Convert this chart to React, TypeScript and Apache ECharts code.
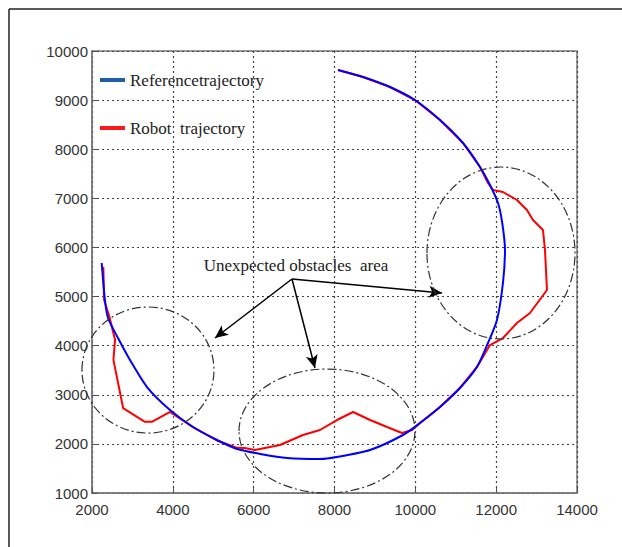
import React, { useEffect, useRef } from "react";
import * as echarts from "echarts";

// Axis ranges / ticks
const xMin = 2000;
const xMax = 14000;
const xStep = 2000;
const yMin = 1000;
const yMax = 10000;
const yStep = 1000;

const seriesNames = ["Referencetrajectory", "Robot  trajectory"];

// Reference trajectory [x, y]
const referenceTrajectory: [number, number][] = [
  [2240, 5683], [2320, 4930], [2396, 4563], [2643, 4156], [2940, 3708],
  [3361, 3158], [3930, 2690], [4499, 2344], [5093, 2079], [5587, 1896],
  [6200, 1790], [6824, 1713], [7641, 1692], [8061, 1733], [8878, 1875],
  [9694, 2181], [10115, 2425], [10610, 2751], [11104, 3138], [11525, 3566],
  [11797, 4054], [12020, 4523], [12168, 5276], [12218, 5948], [12150, 6500],
  [12045, 6905], [11847, 7271], [11600, 7638], [11179, 8127], [10610, 8595],
  [9991, 9002], [9373, 9267], [8705, 9471], [8086, 9613],
];

// Robot trajectory [x, y]
const robotTrajectory: [number, number][] = [
  [2280, 5600], [2300, 4930], [2440, 4560], [2570, 4120], [2530, 3710],
  [2770, 2730], [3310, 2450], [3480, 2450], [3930, 2650], [4500, 2340],
  [5090, 2070], [5600, 1920], [5780, 1916], [6030, 1875], [6650, 1977],
  [7220, 2181], [7640, 2283], [8060, 2486], [8460, 2649], [8880, 2486],
  [9300, 2344], [9670, 2222], [9920, 2283], [10115, 2425], [10610, 2751],
  [11104, 3138], [11525, 3566], [11847, 4013], [12168, 4156], [12514, 4461],
  [12836, 4665], [13257, 5133], [13208, 5948], [13158, 6355], [12910, 6559],
  [12762, 6762], [12514, 6966], [12168, 7129], [11921, 7170], [11797, 7312],
  [11600, 7638], [11179, 8127], [10610, 8595], [9991, 9002], [9373, 9267],
  [8705, 9471], [8086, 9613],
];

// Annotations (data units)
const annotationText = "Unexpected obstacles  area";
const annotationAnchor: [number, number] = [7047, 5642];
const arrowOrigin: [number, number] = [6948, 5357];
const arrowTargets: [number, number][] = [
  [5043, 4156],
  [7517, 3545],
  [10659, 5072],
];
const obstacleAreas = [
  { cx: 3385, cy: 3504, rx: 1633, ry: 1283 },
  { cx: 7814, cy: 2262, rx: 2177, ry: 1262 },
  { cx: 12119, cy: 5887, rx: 1831, ry: 1751 },
];

const tickFont = "'Liberation Sans', Arial, sans-serif";
const serifFont = "'Liberation Serif', 'DejaVu Serif', serif";

export default function App() {
  const ref = useRef<HTMLDivElement>(null);

  useEffect(() => {
    if (!ref.current) return;
    const chart = echarts.init(ref.current, undefined, { renderer: "svg" });
    const fmt = (v: number) => String(v);
    const option: any = {
      animation: false,
      backgroundColor: "#ffffff",
      grid: {
        left: 92,
        right: 45,
        top: 51,
        bottom: 54,
        show: true,
        borderColor: "#7a7a7a",
        borderWidth: 1.5,
        backgroundColor: "transparent",
      },
      xAxis: {
        type: "value",
        min: xMin,
        max: xMax,
        interval: xStep,
        axisLine: { show: true, lineStyle: { color: "#7a7a7a", width: 1.5 } },
        axisTick: { show: true, inside: true, length: 5, lineStyle: { color: "#555" } },
        axisLabel: { margin: 9, color: "#333", fontFamily: tickFont, fontSize: 15, formatter: fmt },
        splitLine: { show: true, lineStyle: { type: [2, 3], color: "#444", width: 1.2 } },
      },
      yAxis: {
        type: "value",
        min: yMin,
        max: yMax,
        interval: yStep,
        axisLine: { show: true, lineStyle: { color: "#7a7a7a", width: 1.5 } },
        axisTick: { show: true, inside: true, length: 5, lineStyle: { color: "#555" } },
        axisLabel: { margin: 4, color: "#333", fontFamily: tickFont, fontSize: 15, formatter: fmt },
        splitLine: { show: true, lineStyle: { type: [2, 3], color: "#444", width: 1.2 } },
      },
      legend: {
        orient: "vertical",
        left: 100,
        top: 71,
        padding: 0,
        itemGap: 30,
        itemWidth: 25,
        itemHeight: 4,
        icon: "rect",
        selectedMode: false,
        textStyle: { fontFamily: serifFont, fontSize: 17, color: "#222", lineHeight: 18 },
        data: [
          { name: seriesNames[0], itemStyle: { color: "#1f5fa8" } },
          { name: seriesNames[1], itemStyle: { color: "#ff1a1a" } },
        ],
      },
      series: [
        {
          name: seriesNames[0],
          type: "line",
          data: referenceTrajectory,
          showSymbol: false,
          symbol: "none",
          smooth: 0.25,
          z: 3,
          color: "#0000ff",
          lineStyle: { color: "#0000ff", width: 2 },
        },
        {
          name: seriesNames[1],
          type: "line",
          data: robotTrajectory,
          showSymbol: false,
          symbol: "none",
          z: 2,
          color: "#ff0000",
          lineStyle: { color: "#ff0000", width: 2 },
          markLine: {
            silent: true,
            animation: false,
            symbol: ["none", "arrow"],
            symbolSize: [9, 13],
            lineStyle: { color: "#000", width: 1.5, type: "solid" },
            label: { show: false },
            emphasis: { disabled: true },
            data: arrowTargets.map((t) => [{ coord: arrowOrigin }, { coord: t }]),
          },
        },
      ],
    };
    chart.setOption(option);

    const toPx = (p: [number, number]) => chart.convertToPixel({ gridIndex: 0 }, p) as number[];
    const graphics: any[] = [
      { type: "line", shape: { x1: 9, y1: 9, x2: 622, y2: 9 }, style: { stroke: "#222", lineWidth: 1.5 }, silent: true },
      { type: "line", shape: { x1: 9, y1: 9, x2: 9, y2: 547 }, style: { stroke: "#222", lineWidth: 1.5 }, silent: true },
    ];
    obstacleAreas.forEach((a) => {
      const c = toPx([a.cx, a.cy]);
      const e = toPx([a.cx + a.rx, a.cy + a.ry]);
      graphics.push({
        type: "ellipse",
        silent: true,
        z: 10,
        shape: { cx: c[0], cy: c[1], rx: Math.abs(e[0] - c[0]), ry: Math.abs(c[1] - e[1]) },
        style: { fill: "none", stroke: "#333", lineWidth: 1.2, lineDash: [9, 3, 2, 3] },
      });
    });
    const tp = toPx(annotationAnchor);
    graphics.push({
      type: "text",
      silent: true,
      z: 10,
      x: tp[0],
      y: tp[1],
      style: {
        text: annotationText,
        fill: "#222",
        font: `17px ${serifFont}`,
        align: "center",
        verticalAlign: "middle",
      },
    });
    chart.setOption({ graphic: graphics });

    return () => chart.dispose();
  }, []);

  return (
    <div
      ref={ref}
      style={{ position: "fixed", left: 0, top: 0, width: 622, height: 547 }}
    />
  );
}
